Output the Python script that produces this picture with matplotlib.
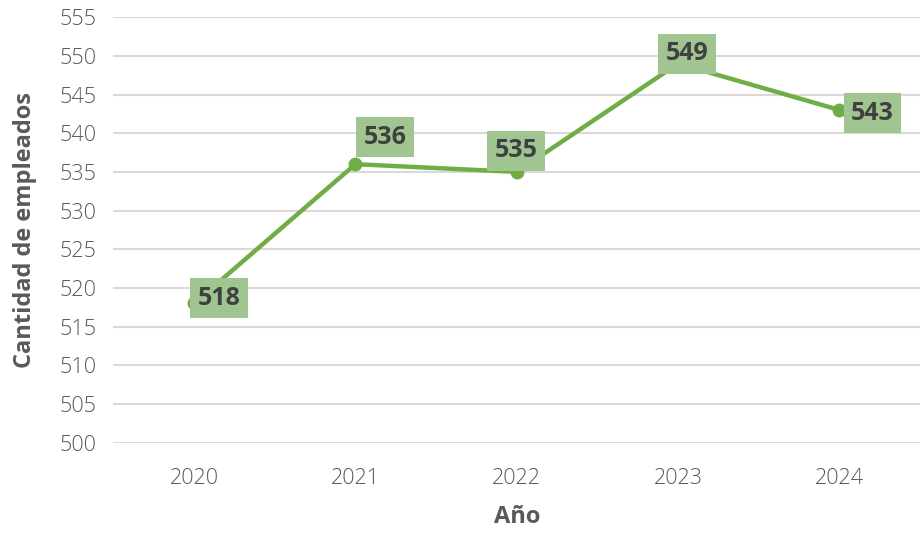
import matplotlib.pyplot as plt

years = ["2020", "2021", "2022", "2023", "2024"]
empleados = [518, 536, 535, 549, 543]
# label offsets (pixels) relative to each point
label_dx = [25, 30, -1, 9, 33]
label_dy = [5, 27, 21, 10, -3]

plt.rcParams["font.family"] = ["Open Sans", "DejaVu Sans"]

fig, ax = plt.subplots(figsize=(9.22, 5.36), dpi=100)
fig.subplots_adjust(left=0.123, right=0.998, top=0.968, bottom=0.174)

x = list(range(len(years)))
ax.plot(x, empleados, color="#70ad47", lw=3.2, marker="o", ms=9, zorder=3)

for i, v in enumerate(empleados):
    ax.annotate(str(v), (x[i], v), xytext=(label_dx[i], label_dy[i]),
                textcoords="offset pixels", ha="center", va="center",
                fontsize=18, fontweight="bold", color="#404040", zorder=4,
                bbox=dict(boxstyle="square,pad=0.3", fc="#a1c591", ec="none"))

ax.set_xlim(-0.5, 4.5)
ax.set_ylim(500, 555)
ax.set_yticks(range(500, 556, 5))
ax.set_xticks(x)
ax.set_xticklabels(years)
ax.grid(axis="y", color="#d9d9d9", lw=1.5)
ax.set_axisbelow(True)
for s in ax.spines.values():
    s.set_visible(False)
ax.tick_params(length=0, labelsize=15.5, labelcolor="#595959", pad=12)
ax.tick_params(axis="x", pad=18)
for t in ax.get_xticklabels() + ax.get_yticklabels():
    t.set_fontweight("light")

ax.set_xlabel("Año", fontsize=17, fontweight="bold", color="#595959", labelpad=12)
ax.set_ylabel("Cantidad de empleados", fontsize=17, fontweight="bold", color="#595959", labelpad=16)

fig.savefig("out.png")
